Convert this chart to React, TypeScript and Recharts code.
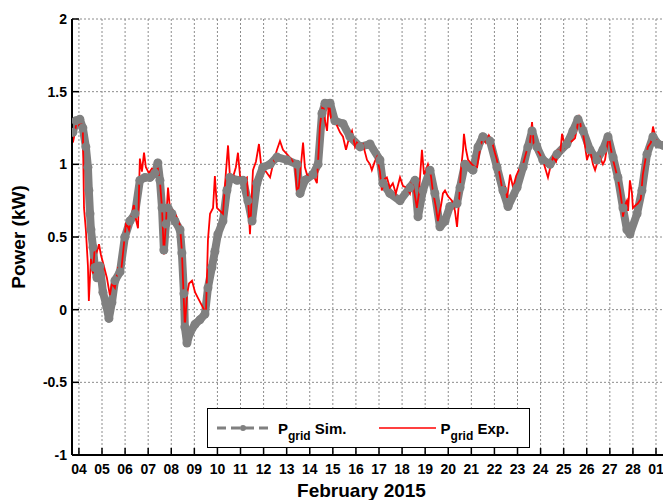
import { LineChart, Line, XAxis, YAxis, CartesianGrid, Legend } from 'recharts';

// [day of February, kW]  (day 29 = 1 March)
const simSeries: [number, number][] = [
  [3.74, 1.22], [3.87, 1.3], [4.04, 1.31], [4.17, 1.25], [4.3, 1.12], [4.39, 0.98], [4.43, 0.82], [4.48, 0.66],
  [4.52, 0.55], [4.61, 0.43], [4.69, 0.29], [4.78, 0.22], [4.91, 0.3], [5.04, 0.12], [5.17, 0.04], [5.3, -0.06],
  [5.43, 0.05], [5.56, 0.2], [5.78, 0.26], [5.99, 0.5], [6.21, 0.61], [6.43, 0.66], [6.64, 0.89], [6.86, 0.91],
  [7.08, 0.91], [7.29, 0.94], [7.42, 1.01], [7.51, 0.89], [7.6, 0.7], [7.68, 0.41], [7.77, 0.59], [7.86, 0.7],
  [8.03, 0.66], [8.16, 0.61], [8.38, 0.55], [8.46, 0.39], [8.55, 0.11], [8.59, -0.12], [8.68, -0.23], [8.81, -0.16],
  [9.03, -0.1], [9.24, -0.07], [9.46, -0.03], [9.59, 0.15], [9.76, 0.29], [9.89, 0.4], [10.02, 0.52], [10.24, 0.61],
  [10.41, 0.82], [10.54, 0.91], [10.85, 0.89], [11.11, 0.89], [11.32, 0.75], [11.5, 0.61], [11.71, 0.87], [11.97, 0.98],
  [12.28, 1.0], [12.58, 1.05], [13.01, 1.03], [13.45, 1.0], [13.58, 0.8], [13.79, 0.89], [14.14, 0.93], [14.36, 1.0],
  [14.53, 1.35], [14.66, 1.42], [14.88, 1.42], [15.09, 1.3], [15.44, 1.28], [15.74, 1.19], [16.18, 1.12], [16.61, 1.14],
  [17.04, 1.03], [17.17, 0.87], [17.47, 0.8], [17.91, 0.75], [18.34, 0.84], [18.56, 0.89], [18.69, 0.64], [18.9, 0.82],
  [19.21, 0.96], [19.42, 0.8], [19.64, 0.57], [19.86, 0.61], [20.07, 0.71], [20.38, 0.73], [20.51, 0.84], [20.72, 1.0],
  [21.07, 0.96], [21.29, 1.12], [21.5, 1.19], [21.81, 1.16], [22.11, 0.98], [22.37, 0.82], [22.59, 0.71], [22.98, 0.84],
  [23.24, 0.98], [23.45, 1.12], [23.63, 1.23], [23.84, 1.12], [24.1, 1.03], [24.41, 1.0], [24.71, 1.07], [25.14, 1.14],
  [25.4, 1.23], [25.62, 1.31], [25.84, 1.23], [26.14, 1.1], [26.44, 1.03], [26.7, 1.1], [26.92, 1.19], [27.14, 1.05],
  [27.35, 0.91], [27.57, 0.7], [27.74, 0.55], [27.87, 0.52], [28.18, 0.66], [28.39, 0.82], [28.61, 1.07], [28.87, 1.19],
  [29.09, 1.14], [29.31, 1.13],
];

const expSeries: [number, number][] = [
  [3.74, 1.15], [3.83, 1.22], [3.91, 1.31], [4.0, 1.27], [4.09, 1.29], [4.17, 1.24], [4.22, 0.7], [4.3, 0.55],
  [4.39, 0.3], [4.43, 0.06], [4.52, 0.35], [4.61, 0.25], [4.69, 0.44], [4.78, 0.4], [4.87, 0.45], [4.95, 0.38],
  [5.08, 0.3], [5.21, 0.22], [5.34, 0.1], [5.43, 0.18], [5.56, 0.15], [5.69, 0.28], [5.82, 0.25], [5.95, 0.45],
  [6.04, 0.6], [6.17, 0.55], [6.3, 0.66], [6.38, 0.72], [6.47, 0.62], [6.56, 0.56], [6.64, 1.04], [6.73, 0.95],
  [6.82, 1.08], [6.9, 0.98], [7.03, 0.94], [7.16, 0.97], [7.29, 0.95], [7.42, 0.97], [7.51, 0.88], [7.6, 0.7],
  [7.68, 0.38], [7.77, 0.6], [7.86, 0.84], [7.94, 0.7], [8.07, 0.68], [8.2, 0.65], [8.38, 0.58], [8.46, 0.4],
  [8.51, 0.2], [8.59, -0.12], [8.68, 0.1], [8.77, 0.18], [8.9, 0.2], [9.03, 0.12], [9.16, 0.08], [9.29, 0.04],
  [9.42, 0.0], [9.5, -0.04], [9.59, 0.48], [9.68, 0.66], [9.81, 0.7], [9.89, 0.92], [9.98, 0.7], [10.11, 0.68],
  [10.24, 0.66], [10.37, 0.95], [10.46, 1.13], [10.54, 0.92], [10.67, 0.91], [10.8, 0.98], [10.89, 1.08], [10.98, 0.92],
  [11.06, 0.89], [11.19, 0.9], [11.28, 0.91], [11.41, 0.52], [11.54, 0.96], [11.67, 1.02], [11.8, 1.14], [11.89, 1.0],
  [11.97, 0.98], [12.1, 0.95], [12.28, 0.91], [12.45, 1.03], [12.58, 1.1], [12.71, 1.16], [12.84, 1.1], [13.01, 1.07],
  [13.18, 1.04], [13.36, 1.0], [13.45, 0.8], [13.53, 0.85], [13.62, 1.0], [13.71, 1.15], [13.79, 0.98], [13.88, 0.93],
  [14.05, 0.92], [14.23, 0.9], [14.31, 0.87], [14.44, 1.26], [14.57, 1.43], [14.66, 1.3], [14.75, 1.23], [14.83, 1.43],
  [14.92, 1.32], [15.01, 1.3], [15.14, 1.28], [15.31, 1.22], [15.44, 1.19], [15.57, 1.1], [15.7, 1.18], [15.83, 1.23],
  [15.96, 1.12], [16.04, 1.15], [16.17, 1.13], [16.3, 1.14], [16.48, 1.03], [16.61, 1.0], [16.69, 0.96], [16.82, 1.02],
  [16.91, 1.05], [17.04, 0.95], [17.12, 0.82], [17.25, 0.9], [17.34, 0.91], [17.47, 0.84], [17.6, 0.87], [17.73, 0.8],
  [17.91, 0.91], [18.04, 0.85], [18.21, 0.84], [18.34, 0.8], [18.43, 0.9], [18.56, 0.78], [18.64, 0.7], [18.73, 0.8],
  [18.86, 1.1], [18.95, 0.93], [19.03, 0.96], [19.12, 1.0], [19.25, 0.92], [19.33, 0.82], [19.47, 0.7], [19.55, 0.61],
  [19.69, 0.72], [19.77, 0.8], [19.86, 0.82], [19.99, 0.78], [20.16, 0.75], [20.29, 0.68], [20.38, 0.57], [20.47, 0.75],
  [20.55, 0.96], [20.64, 1.1], [20.68, 1.21], [20.77, 1.1], [20.86, 1.03], [21.03, 1.0], [21.16, 0.98], [21.25, 0.98],
  [21.37, 1.1], [21.5, 1.19], [21.63, 1.15], [21.76, 1.2], [21.89, 1.16], [22.02, 1.08], [22.11, 1.03], [22.24, 0.92],
  [22.37, 0.8], [22.46, 0.85], [22.55, 0.77], [22.68, 0.93], [22.81, 0.84], [22.94, 0.92], [23.11, 0.98], [23.24, 1.0],
  [23.41, 1.1], [23.54, 1.15], [23.63, 1.29], [23.71, 1.12], [23.84, 1.1], [23.97, 1.07], [24.15, 1.0], [24.32, 0.91],
  [24.45, 1.0], [24.54, 1.05], [24.67, 1.02], [24.75, 1.1], [24.84, 1.06], [24.93, 1.21], [25.06, 1.12], [25.19, 1.14],
  [25.36, 1.16], [25.49, 1.18], [25.58, 1.25], [25.67, 1.34], [25.75, 1.25], [25.84, 1.21], [25.93, 1.12], [26.01, 1.03],
  [26.14, 1.1], [26.27, 1.0], [26.36, 0.96], [26.49, 1.03], [26.57, 1.05], [26.7, 1.0], [26.79, 1.03], [26.88, 1.12],
  [26.96, 1.2], [27.05, 1.1], [27.14, 1.03], [27.27, 0.95], [27.35, 0.9], [27.44, 0.82], [27.53, 0.72], [27.57, 0.64],
  [27.66, 0.72], [27.74, 0.75], [27.79, 0.68], [27.87, 0.89], [27.96, 0.8], [28.0, 0.7], [28.13, 0.72], [28.21, 0.73],
  [28.34, 0.76], [28.43, 0.93], [28.56, 1.05], [28.65, 1.12], [28.78, 1.15], [28.87, 1.26], [28.95, 1.2], [29.04, 1.16],
  [29.17, 1.15], [29.31, 1.15],
];

const dayTicks = [4, 5, 6, 7, 8, 9, 10, 11, 12, 13, 14, 15, 16, 17, 18, 19, 20, 21, 22, 23, 24, 25, 26, 27, 28, 29];
const powerTicks = [-1, -0.5, 0, 0.5, 1, 1.5, 2];
const seriesOrder = ['Sim.', 'Exp.'];

const simData = simSeries.map(([day, kw]) => ({ day, kw }));
const expData = expSeries.map(([day, kw]) => ({ day, kw }));

const FONT = '"Liberation Sans", Arial, Helvetica, sans-serif';
const CHART_W = 680;
const CHART_H = 500;
const PLOT_TOP = 19;
const PLOT_BOTTOM = 455;
const PLOT_LEFT = 72;
const PLOT_RIGHT = 665;
const TICK_LEN = 7;
const SIM_GRAY = '#808080';
const EXP_RED = '#ff0000';

const dayLabel = (d: number) => String(d > 28 ? d - 28 : d).padStart(2, '0');

function BottomTick({ x, payload }: any) {
  return (
    <g>
      <line x1={x} x2={x} y1={PLOT_BOTTOM} y2={PLOT_BOTTOM - TICK_LEN} stroke="#000" strokeWidth={1.5} />
      <text x={x} y={473.5} textAnchor="middle" fontFamily={FONT} fontWeight="bold" fontSize={14} fill="#000">
        {dayLabel(payload.value)}
      </text>
    </g>
  );
}

function TopTick({ x }: any) {
  return <line x1={x} x2={x} y1={PLOT_TOP} y2={PLOT_TOP + TICK_LEN} stroke="#000" strokeWidth={1.5} />;
}

function LeftTick({ y, payload }: any) {
  return (
    <g>
      <line x1={PLOT_LEFT} x2={PLOT_LEFT + TICK_LEN} y1={y} y2={y} stroke="#000" strokeWidth={1.5} />
      <text x={67} y={y + 5} textAnchor="end" fontFamily={FONT} fontWeight="bold" fontSize={14} fill="#000">
        {payload.value}
      </text>
    </g>
  );
}

function RightTick({ y }: any) {
  return <line x1={PLOT_RIGHT} x2={PLOT_RIGHT - TICK_LEN} y1={y} y2={y} stroke="#000" strokeWidth={1.5} />;
}

function LegendBox({ payload }: any) {
  const items = [...(payload || [])].sort(
    (a: any, b: any) => seriesOrder.indexOf(a.value) - seriesOrder.indexOf(b.value)
  );
  return (
    <div
      style={{
        boxSizing: 'border-box',
        width: 323,
        height: 40,
        border: '1.5px solid #000',
        background: '#fff',
        display: 'flex',
        alignItems: 'center',
        paddingLeft: 9,
        fontFamily: FONT,
        fontWeight: 'bold',
        fontSize: 15,
        color: '#000',
      }}
    >
      {items.map((entry: any, i: number) => {
        const sim = entry.value === 'Sim.';
        return (
          <div key={entry.value} style={{ display: 'flex', alignItems: 'center', marginLeft: i === 0 ? 0 : 32 }}>
            <svg width={sim ? 53 : 57} height={12} style={{ marginRight: sim ? 8 : 5 }}>
              {sim ? (
                <>
                  <line x1={0} x2={53} y1={6} y2={6} stroke={SIM_GRAY} strokeWidth={3} strokeDasharray="9 5" />
                  <circle cx={26} cy={6} r={3} fill={SIM_GRAY} />
                </>
              ) : (
                <line x1={0} x2={57} y1={6} y2={6} stroke={EXP_RED} strokeWidth={1.5} />
              )}
            </svg>
            <span style={{ whiteSpace: 'nowrap' }}>
              P
              <span style={{ fontSize: 12, position: 'relative', top: 6 }}>grid</span> {entry.value}
            </span>
          </div>
        );
      })}
    </div>
  );
}

export default function App() {
  return (
    <div
      style={{
        position: 'absolute',
        left: 0,
        top: 0,
        width: 663,
        height: 500,
        overflow: 'hidden',
        background: '#fff',
      }}
    >
      <LineChart
        width={CHART_W}
        height={CHART_H}
        margin={{ top: PLOT_TOP, right: CHART_W - PLOT_RIGHT, bottom: 0, left: 0 }}
      >
        <CartesianGrid stroke="#8c8c8c" strokeDasharray="2 2" strokeWidth={1} />
        <XAxis
          type="number"
          dataKey="day"
          domain={[3.7, 29.39]}
          ticks={dayTicks}
          interval={0}
          allowDataOverflow
          height={CHART_H - PLOT_BOTTOM}
          axisLine={{ stroke: '#000', strokeWidth: 2 }}
          tickLine={false}
          tick={<BottomTick />}
          label={{
            value: 'February 2015',
            position: 'insideBottom',
            offset: 3,
            dx: -7,
            style: { fontFamily: FONT, fontWeight: 'bold', fontSize: 19, fill: '#000' },
          }}
        />
        <XAxis
          xAxisId="top"
          orientation="top"
          type="number"
          dataKey="day"
          domain={[3.7, 29.39]}
          ticks={dayTicks}
          interval={0}
          allowDataOverflow
          height={0}
          axisLine={{ stroke: '#000', strokeWidth: 2 }}
          tickLine={false}
          tick={<TopTick />}
        />
        <YAxis
          type="number"
          domain={[-1, 2]}
          ticks={powerTicks}
          interval={0}
          width={PLOT_LEFT}
          axisLine={{ stroke: '#000', strokeWidth: 2 }}
          tickLine={false}
          tick={<LeftTick />}
          label={{
            value: 'Power (kW)',
            angle: -90,
            position: 'insideLeft',
            offset: 18,
            style: { textAnchor: 'middle', fontFamily: FONT, fontWeight: 'bold', fontSize: 19, fill: '#000' },
          }}
        />
        <YAxis
          yAxisId="right"
          orientation="right"
          type="number"
          domain={[-1, 2]}
          ticks={powerTicks}
          interval={0}
          width={0}
          axisLine={{ stroke: '#000', strokeWidth: 2 }}
          tickLine={false}
          tick={<RightTick />}
        />
        <Line
          data={simData}
          dataKey="kw"
          name="Sim."
          type="linear"
          stroke={SIM_GRAY}
          strokeWidth={8}
          strokeLinejoin="round"
          dot={{ r: 4.5, fill: SIM_GRAY, stroke: 'none' }}
          isAnimationActive={false}
        />
        <Line
          data={expData}
          dataKey="kw"
          name="Exp."
          type="linear"
          stroke={EXP_RED}
          strokeWidth={1.8}
          dot={false}
          isAnimationActive={false}
        />
        <Legend
          layout="horizontal"
          verticalAlign="middle"
          align="center"
          wrapperStyle={{ left: 207, top: 408, width: 323, height: 40 }}
          content={<LegendBox />}
        />
      </LineChart>
    </div>
  );
}
